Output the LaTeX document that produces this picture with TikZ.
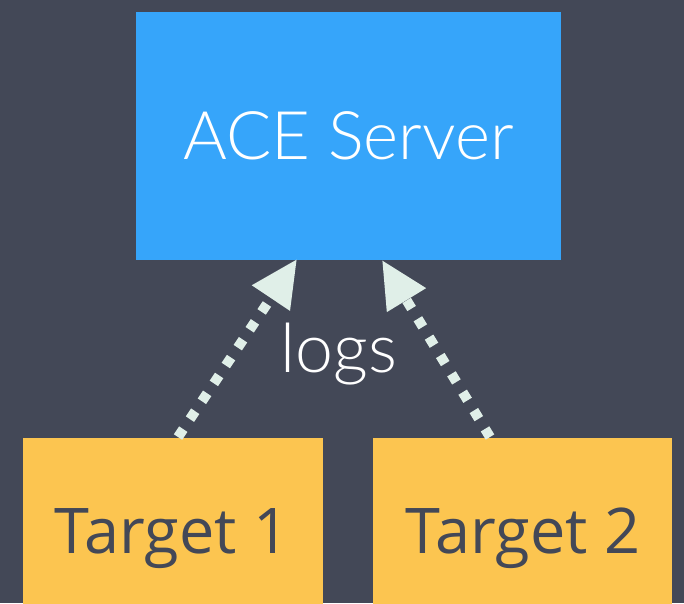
\documentclass[tikz,border=0pt]{standalone}
\usepackage{fontspec}
\usetikzlibrary{arrows.meta}
\setmainfont{Open Sans}
\newfontfamily\lightfont{Lato Light}
\definecolor{bg}{HTML}{434857}
\definecolor{aceblue}{HTML}{36A5FA}
\definecolor{tgtyellow}{HTML}{FCC550}
\definecolor{mint}{HTML}{E0EFE8}
\begin{document}
\begin{tikzpicture}[x=1pt,y=-1pt,
  box/.style={rectangle, inner sep=0pt, draw=none},
  tlabel/.style={text=bg, font=\fontsize{63}{70}\selectfont, anchor=base},
  logarrow/.style={draw=mint, line width=10pt, dash pattern=on 9.5pt off 12pt,
    -{Triangle[length=47pt,width=43pt]}}]
\useasboundingbox (0,0) rectangle (684,603);
\fill[bg] (0,0) rectangle (684,603);
\clip (0,0) rectangle (684,603);
\node[box, fill=aceblue, minimum width=425pt, minimum height=248pt, text=white,
  font=\lightfont\fontsize{67}{70}\selectfont] (ace) at (348.5,136) {ACE Server};
\node[box, fill=tgtyellow, minimum width=300pt, minimum height=200pt] (t1) at (173,538) {};
\node[box, fill=tgtyellow, minimum width=299pt, minimum height=200pt] (t2) at (522.5,538) {};
\node[tlabel] (t1l) at (172,553) {Target 1};
\node[tlabel] (t2l) at (523,553) {Target 2};
\coordinate (a1s) at (178,437);
\coordinate (a1e) at (297,259);
\coordinate (a2s) at (490,437);
\coordinate (a2e) at (382,260);
\draw[logarrow] (a1s) -- (a1e);
\draw[logarrow] (a2s) -- (a2e);
\node[text=white, font=\lightfont\fontsize{68}{72}\selectfont, anchor=base] (logs) at (339,372) {logs};
\end{tikzpicture}
\end{document}
